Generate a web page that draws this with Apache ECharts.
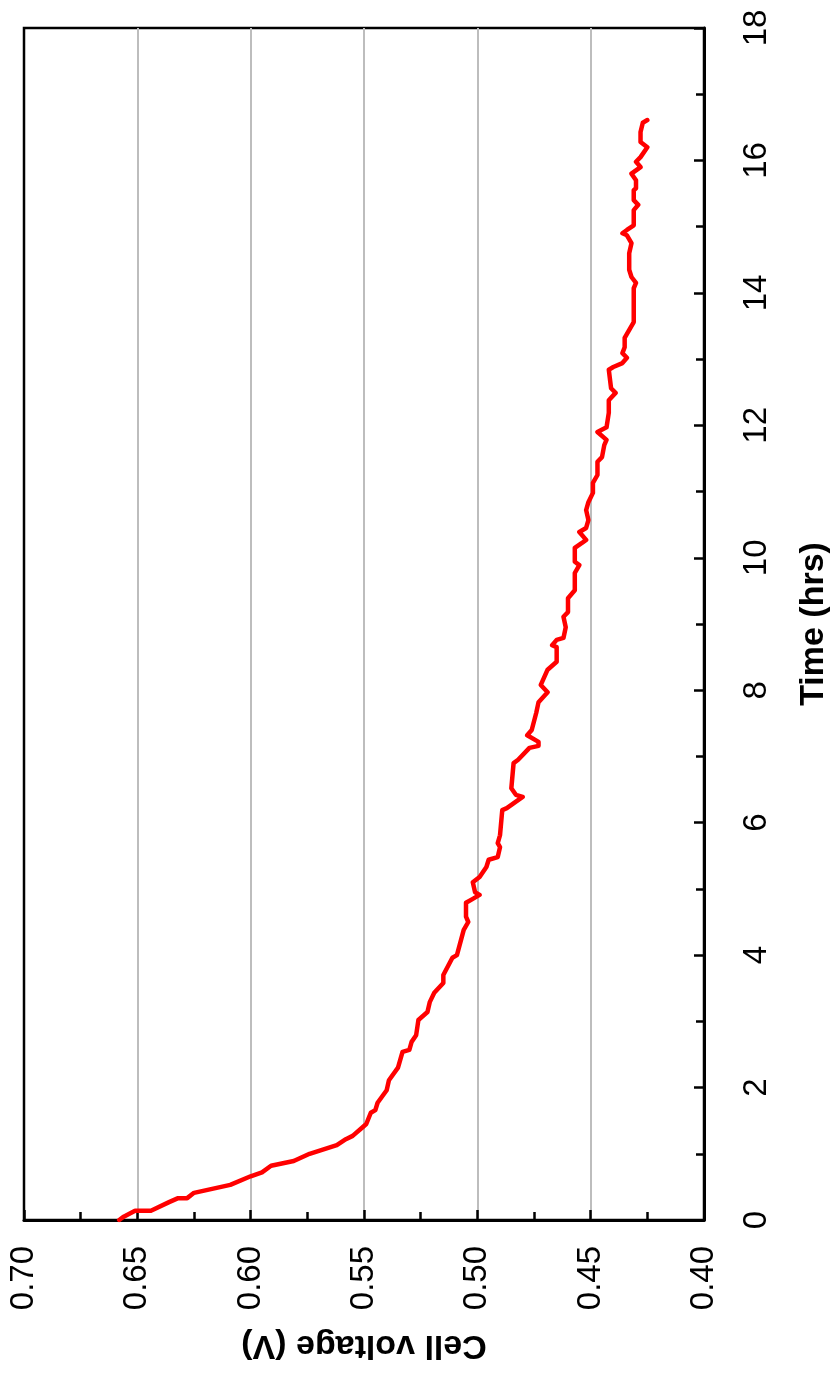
<!DOCTYPE html>
<html>
<head>
<meta charset="utf-8">
<title>Cell voltage vs time</title>
<script src="https://cdn.jsdelivr.net/npm/echarts@6/dist/echarts.min.js"></script>
<style>
  html, body { margin: 0; padding: 0; background: #fff; }
  #chart { width: 835px; height: 1385px; }
</style>
</head>
<body>
<div id="chart"></div>
<script>
// Discharge trace: elapsed time (hrs) and cell voltage (V)
const timeHrs = [
  0.00, 0.05, 0.14, 0.14, 0.27, 0.33, 0.33, 0.41, 0.53, 0.66,
  0.72, 0.82, 0.89, 1.00, 1.13, 1.22, 1.27, 1.39, 1.45, 1.62,
  1.66, 1.77, 1.96, 2.11, 2.30, 2.54, 2.57, 2.69, 2.79, 3.02,
  3.14, 3.29, 3.43, 3.58, 3.70, 3.96, 4.00, 4.38, 4.50, 4.58,
  4.79, 4.85, 4.91, 4.95, 5.10, 5.18, 5.33, 5.44, 5.48, 5.63,
  5.69, 5.81, 6.19, 6.22, 6.39, 6.42, 6.52, 6.90, 6.95, 7.13,
  7.16, 7.22, 7.32, 7.40, 7.66, 7.82, 7.97, 8.08, 8.31, 8.43,
  8.65, 8.68, 8.76, 8.79, 8.95, 9.11, 9.18, 9.39, 9.51, 9.77,
  9.89, 9.94, 10.15, 10.22, 10.27, 10.39, 10.45, 10.57, 10.72, 10.84,
  10.98, 11.13, 11.25, 11.45, 11.52, 11.70, 11.78, 11.90, 11.97, 12.19,
  12.38, 12.49, 12.56, 12.84, 12.88, 12.94, 13.02, 13.09, 13.18, 13.32,
  13.56, 14.07, 14.15, 14.24, 14.35, 14.60, 14.75, 14.87, 14.90, 14.95,
  15.02, 15.25, 15.33, 15.40, 15.55, 15.58, 15.70, 15.80, 15.90, 15.98,
  16.05, 16.20, 16.28, 16.43, 16.57, 16.61
];
const cellVoltage = [
  0.658, 0.656, 0.651, 0.644, 0.636, 0.632, 0.628, 0.625, 0.609, 0.600,
  0.595, 0.591, 0.581, 0.574, 0.562, 0.558, 0.555, 0.551, 0.549, 0.547,
  0.545, 0.544, 0.540, 0.539, 0.535, 0.533, 0.530, 0.529, 0.527, 0.526,
  0.522, 0.521, 0.519, 0.515, 0.515, 0.511, 0.509, 0.506, 0.504, 0.505,
  0.505, 0.502, 0.499, 0.501, 0.502, 0.499, 0.496, 0.495, 0.491, 0.490,
  0.491, 0.490, 0.489, 0.487, 0.480, 0.483, 0.485, 0.484, 0.482, 0.477,
  0.473, 0.473, 0.478, 0.476, 0.474, 0.473, 0.469, 0.472, 0.469, 0.465,
  0.465, 0.467, 0.465, 0.462, 0.461, 0.462, 0.460, 0.460, 0.457, 0.457,
  0.455, 0.457, 0.457, 0.454, 0.452, 0.455, 0.452, 0.451, 0.452, 0.451,
  0.449, 0.449, 0.447, 0.447, 0.445, 0.444, 0.443, 0.447, 0.443, 0.442,
  0.442, 0.439, 0.441, 0.442, 0.440, 0.436, 0.434, 0.436, 0.435, 0.435,
  0.431, 0.431, 0.430, 0.432, 0.433, 0.433, 0.432, 0.434, 0.436, 0.434,
  0.431, 0.431, 0.429, 0.431, 0.431, 0.430, 0.430, 0.432, 0.428, 0.430,
  0.428, 0.425, 0.428, 0.428, 0.427, 0.425
];

// Axis ranges and tick steps
const voltageMin = 0.40, voltageMax = 0.70, voltageStep = 0.05;
const timeMin = 0, timeMax = 18, timeStep = 2;

const points = timeHrs.map((t, i) => [cellVoltage[i], t]);

const font = 'Liberation Sans, Arial, Helvetica, sans-serif';
const chart = echarts.init(document.getElementById('chart'), null, { renderer: 'canvas' });

chart.setOption({
  animation: false,
  backgroundColor: '#ffffff',
  grid: {
    left: 24, top: 28, right: 131, bottom: 165,
    show: true, borderColor: '#000', borderWidth: 2.5,
    backgroundColor: '#fff',
    outerBoundsMode: 'none'
  },
  xAxis: {
    type: 'value',
    position: 'bottom',
    inverse: true,
    min: voltageMin, max: voltageMax, interval: voltageStep,
    name: 'Cell voltage (V)',
    nameLocation: 'middle',
    nameRotate: 180,
    nameGap: 108,
    nameTextStyle: { fontFamily: font, fontWeight: 'bold', fontSize: 34, color: '#000' },
    axisLine: { show: true, lineStyle: { color: '#000', width: 3 } },
    axisTick: { show: true, inside: true, length: 10, lineStyle: { color: '#000', width: 2.5 } },
    minorTick: { show: true, splitNumber: 2, length: 8, lineStyle: { color: '#000', width: 2.5 } },
    splitLine: {
      show: true, showMinLine: false, showMaxLine: false,
      lineStyle: { color: '#bdbdbd', width: 2 }
    },
    axisLabel: {
      rotate: 90, margin: 26, fontFamily: font, fontSize: 33, color: '#000',
      formatter: v => v.toFixed(2)
    }
  },
  yAxis: {
    type: 'value',
    position: 'right',
    min: timeMin, max: timeMax, interval: timeStep,
    name: 'Time (hrs)',
    nameLocation: 'middle',
    nameRotate: 90,
    nameGap: 93,
    nameTextStyle: { fontFamily: font, fontWeight: 'bold', fontSize: 34, color: '#000' },
    axisLine: { show: true, lineStyle: { color: '#000', width: 3 } },
    axisTick: { show: true, inside: true, length: 10, lineStyle: { color: '#000', width: 2.5 } },
    minorTick: { show: true, splitNumber: 2, length: 8, lineStyle: { color: '#000', width: 2.5 } },
    splitLine: { show: false },
    axisLabel: {
      rotate: 90, margin: 36, fontFamily: font, fontSize: 33, color: '#000'
    }
  },
  series: [{
    type: 'line',
    data: points,
    showSymbol: false,
    symbol: 'none',
    clip: true,
    lineStyle: { color: '#ff0000', width: 4.5, join: 'round', cap: 'round' }
  }]
});
</script>
</body>
</html>
